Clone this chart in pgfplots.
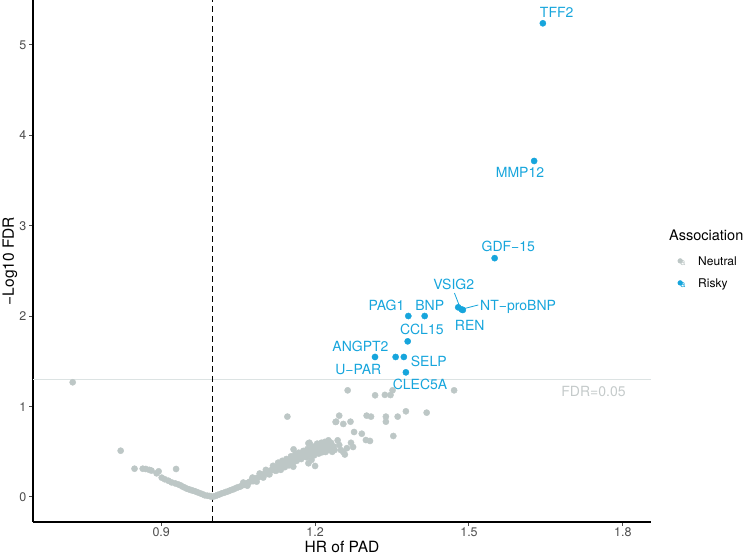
\documentclass[border=0pt]{standalone}
\usepackage{fontspec}
\setmainfont{TeX Gyre Heros}
\usepackage{pgfplots}
\pgfplotsset{compat=1.18}
\definecolor{neutral}{HTML}{BDC7C6}
\definecolor{risky}{HTML}{16A5DC}
\definecolor{fdrline}{HTML}{DCE3E3}
\definecolor{fdrtext}{HTML}{C4CACA}
\definecolor{tickgray}{HTML}{4D4D4D}
\tikzset{lab/.style={text=risky, font=\fontsize{14}{16}\selectfont, inner sep=0pt, text depth=0pt}}

\pgfplotstableread{
hr v
0.7275 1.269
0.821 0.512
0.848 0.313
0.864 0.313
0.870 0.310
0.877 0.300
0.881 0.292
0.891 0.262
0.895 0.284
0.929 0.310
0.901 0.214
0.907 0.196
0.914 0.180
0.920 0.162
0.927 0.151
0.933 0.140
0.938 0.128
0.942 0.114
0.946 0.104
0.950 0.092
0.954 0.085
0.958 0.077
0.962 0.070
0.966 0.063
0.971 0.052
0.976 0.041
0.981 0.030
0.985 0.019
0.990 0.014
0.994 0.011
0.998 0.004
1.002 0.005
1.006 0.012
1.010 0.022
1.014 0.030
1.018 0.040
1.022 0.046
1.026 0.055
1.030 0.062
1.034 0.072
1.038 0.080
1.042 0.088
1.046 0.100
1.050 0.108
1.054 0.115
1.058 0.128
1.062 0.135
1.066 0.148
1.070 0.160
1.073 0.170
1.076 0.182
1.079 0.175
1.082 0.195
1.085 0.200
1.088 0.215
1.091 0.222
1.094 0.235
1.097 0.240
1.100 0.252
1.103 0.262
1.106 0.270
1.108 0.255
1.110 0.285
1.113 0.292
1.116 0.300
1.119 0.310
1.121 0.295
1.123 0.325
1.126 0.330
1.129 0.342
1.131 0.320
1.134 0.355
1.137 0.362
1.139 0.345
1.142 0.375
1.145 0.385
1.147 0.368
1.150 0.400
1.152 0.412
1.155 0.395
1.157 0.425
1.160 0.432
1.162 0.415
1.165 0.448
1.167 0.455
1.170 0.438
1.172 0.468
1.175 0.478
1.178 0.462
1.180 0.490
1.183 0.500
1.186 0.485
1.188 0.515
1.190 0.525
1.193 0.505
1.196 0.535
1.199 0.548
1.202 0.520
1.205 0.555
1.208 0.540
1.211 0.565
1.214 0.530
1.217 0.555
1.220 0.570
1.224 0.545
1.228 0.560
1.232 0.530
1.060 0.160
1.068 0.125
1.078 0.215
1.086 0.170
1.092 0.260
1.099 0.215
1.104 0.300
1.111 0.250
1.118 0.345
1.124 0.290
1.128 0.380
1.133 0.300
1.136 0.400
1.141 0.330
1.144 0.420
1.149 0.350
1.153 0.450
1.156 0.370
1.161 0.470
1.164 0.400
1.168 0.490
1.173 0.420
1.177 0.510
1.181 0.450
1.185 0.530
1.191 0.470
1.195 0.560
1.198 0.460
1.204 0.590
1.207 0.480
1.212 0.600
1.216 0.500
1.219 0.610
1.223 0.515
1.227 0.590
1.231 0.600
1.236 0.560
1.238 0.520
1.146 0.889
1.158 0.527
1.187 0.594
1.151 0.410
1.1705 0.428
1.1835 0.483
1.1316 0.317
1.1446 0.354
1.1575 0.335
1.200 0.343
1.2635 1.180
1.317 1.125
1.336 1.130
1.347 1.128
1.351 1.180
1.471 1.180
1.240 0.830
1.377 0.948
1.4175 0.933
1.361 0.889
1.3005 0.900
1.309 0.889
1.338 0.889
1.338 0.833
1.247 0.900
1.241 0.833
1.255 0.808
1.269 0.833
1.276 0.719
1.291 0.700
1.3525 0.675
1.299 0.630
1.307 0.620
1.270 0.600
1.274 0.553
1.244 0.627
1.247 0.575
1.250 0.520
1.255 0.498
1.226 0.627
1.229 0.520
1.2335 0.500
1.189 0.600
1.2095 0.539
1.217 0.527
1.2205 0.498
1.213 0.494
1.203 0.500
1.1965 0.505
1.176 0.446
1.1835 0.439
1.193 0.410
1.187 0.373
1.262 0.540
1.258 0.470
}\neutraldata

\pgfplotstableread{
hr v
1.644 5.240
1.627 3.717
1.550 2.642
1.479 2.098
1.488 2.069
1.486 2.074
1.4136 2.002
1.3817 2.002
1.3805 1.722
1.3168 1.549
1.357 1.549
1.373 1.549
1.377 1.379
}\riskydata

\begin{document}
\begin{tikzpicture}[x=1pt,y=1pt]
\path[use as bounding box] (0,0) rectangle (750,556);
\begin{axis}[
  at={(33pt,34pt)}, anchor=south west,
  width=618pt, height=522pt, scale only axis,
  xmin=0.6501, xmax=1.8548, ymin=-0.2765, ymax=5.4978,
  axis lines*=left,
  axis line style={black, line width=1.1pt, -},
  xtick={0.9,1.2,1.5,1.8}, ytick={0,1,2,3,4,5},
  tick align=outside, major tick length=4pt,
  tick style={tickgray, line width=1pt},
  /pgf/number format/assume math mode=true,
  ticklabel style={font=\fontsize{12.5}{14}\selectfont, text=tickgray},
  xticklabel style={inner sep=1.5pt, /pgf/number format/fixed, /pgf/number format/precision=1, /pgf/number format/fixed zerofill},
  yticklabel style={inner sep=2.5pt},
  xlabel={HR of PAD}, ylabel={−Log10 FDR},
  label style={font=\fontsize{15.5}{17}\selectfont},
  xlabel style={at={(rel axis cs:0.5,-0.0475)}, anchor=center},
  ylabel style={at={(rel axis cs:-0.0372,0.5)}, anchor=center},
  clip=false,
  legend style={at={(rel axis cs:1.0372,0.5092)}, anchor=north west, draw=none, fill=none,
    font=\fontsize{12}{14}\selectfont, row sep=13pt, inner sep=0pt,
    nodes={inner sep=0pt, text height=9pt, text depth=0pt}},
  legend cell align=left,
]
\addplot[fdrline, line width=1pt, forget plot] coordinates {(0.6501,1.30103) (1.8548,1.30103)};
\addplot[only marks, mark=*, mark size=3.1pt, mark options={draw=neutral, fill=neutral},
  legend image code/.code={\path[draw=none] (0,0) -- (24pt,0); \node[text=neutral, inner sep=0pt, font=\fontsize{9}{9}\selectfont] at (6pt,0) {a}; \fill[neutral] (6pt,0) circle (2.4pt);}]
  table[x=hr, y=v] {\neutraldata};
\addlegendentry{Neutral}
\addplot[black, line width=1.4pt, dash pattern=on 6pt off 4pt, forget plot] coordinates {(1,-0.2765) (1,5.4978)};
\addplot[only marks, mark=*, mark size=3.1pt, mark options={draw=risky, fill=risky},
  legend image code/.code={\path[draw=none] (0,0) -- (24pt,0); \node[text=risky, inner sep=0pt, font=\fontsize{9}{9}\selectfont] at (6pt,0) {a}; \fill[risky] (6pt,0) circle (2.4pt);}]
  table[x=hr, y=v] {\riskydata};
\addlegendentry{Risky}

% repel segments
\draw[risky, line width=0.8pt] (axis cs:1.4717,2.2556) -- (axis cs:1.4834,2.083);
\draw[risky, line width=0.8pt] (axis cs:1.5181,2.124) -- (axis cs:1.4877,2.080);

\node[lab] at (axis cs:1.671,5.357) {TFF2};
\node[lab] at (axis cs:1.5994,3.587) {MMP12};
\node[lab] at (axis cs:1.5766,2.769) {GDF−15};
\node[lab] at (axis cs:1.4702,2.356) {VSIG2};
\node[lab, anchor=west] at (axis cs:1.5214,2.124) {NT−proBNP};
\node[lab] at (axis cs:1.5014,1.895) {REN};
\node[lab] at (axis cs:1.4236,2.121) {BNP};
\node[lab] at (axis cs:1.3392,2.121) {PAG1};
\node[lab] at (axis cs:1.408,1.855) {CCL15};
\node[lab] at (axis cs:1.2885,1.670) {ANGPT2};
\node[lab] at (axis cs:1.2842,1.413) {U−PAR};
\node[lab] at (axis cs:1.4216,1.497) {SELP};
\node[lab] at (axis cs:1.4045,1.250) {CLEC5A};
\node[text=fdrtext, font=\fontsize{14}{16}\selectfont, inner sep=0pt, text depth=0pt] at (axis cs:1.7427,1.1726) {FDR=0.05};

\node[anchor=west, inner sep=0pt, font=\fontsize{14.5}{16}\selectfont] at (rel axis cs:1.0291,0.5498) {Association};
\end{axis}
\end{tikzpicture}
\end{document}
